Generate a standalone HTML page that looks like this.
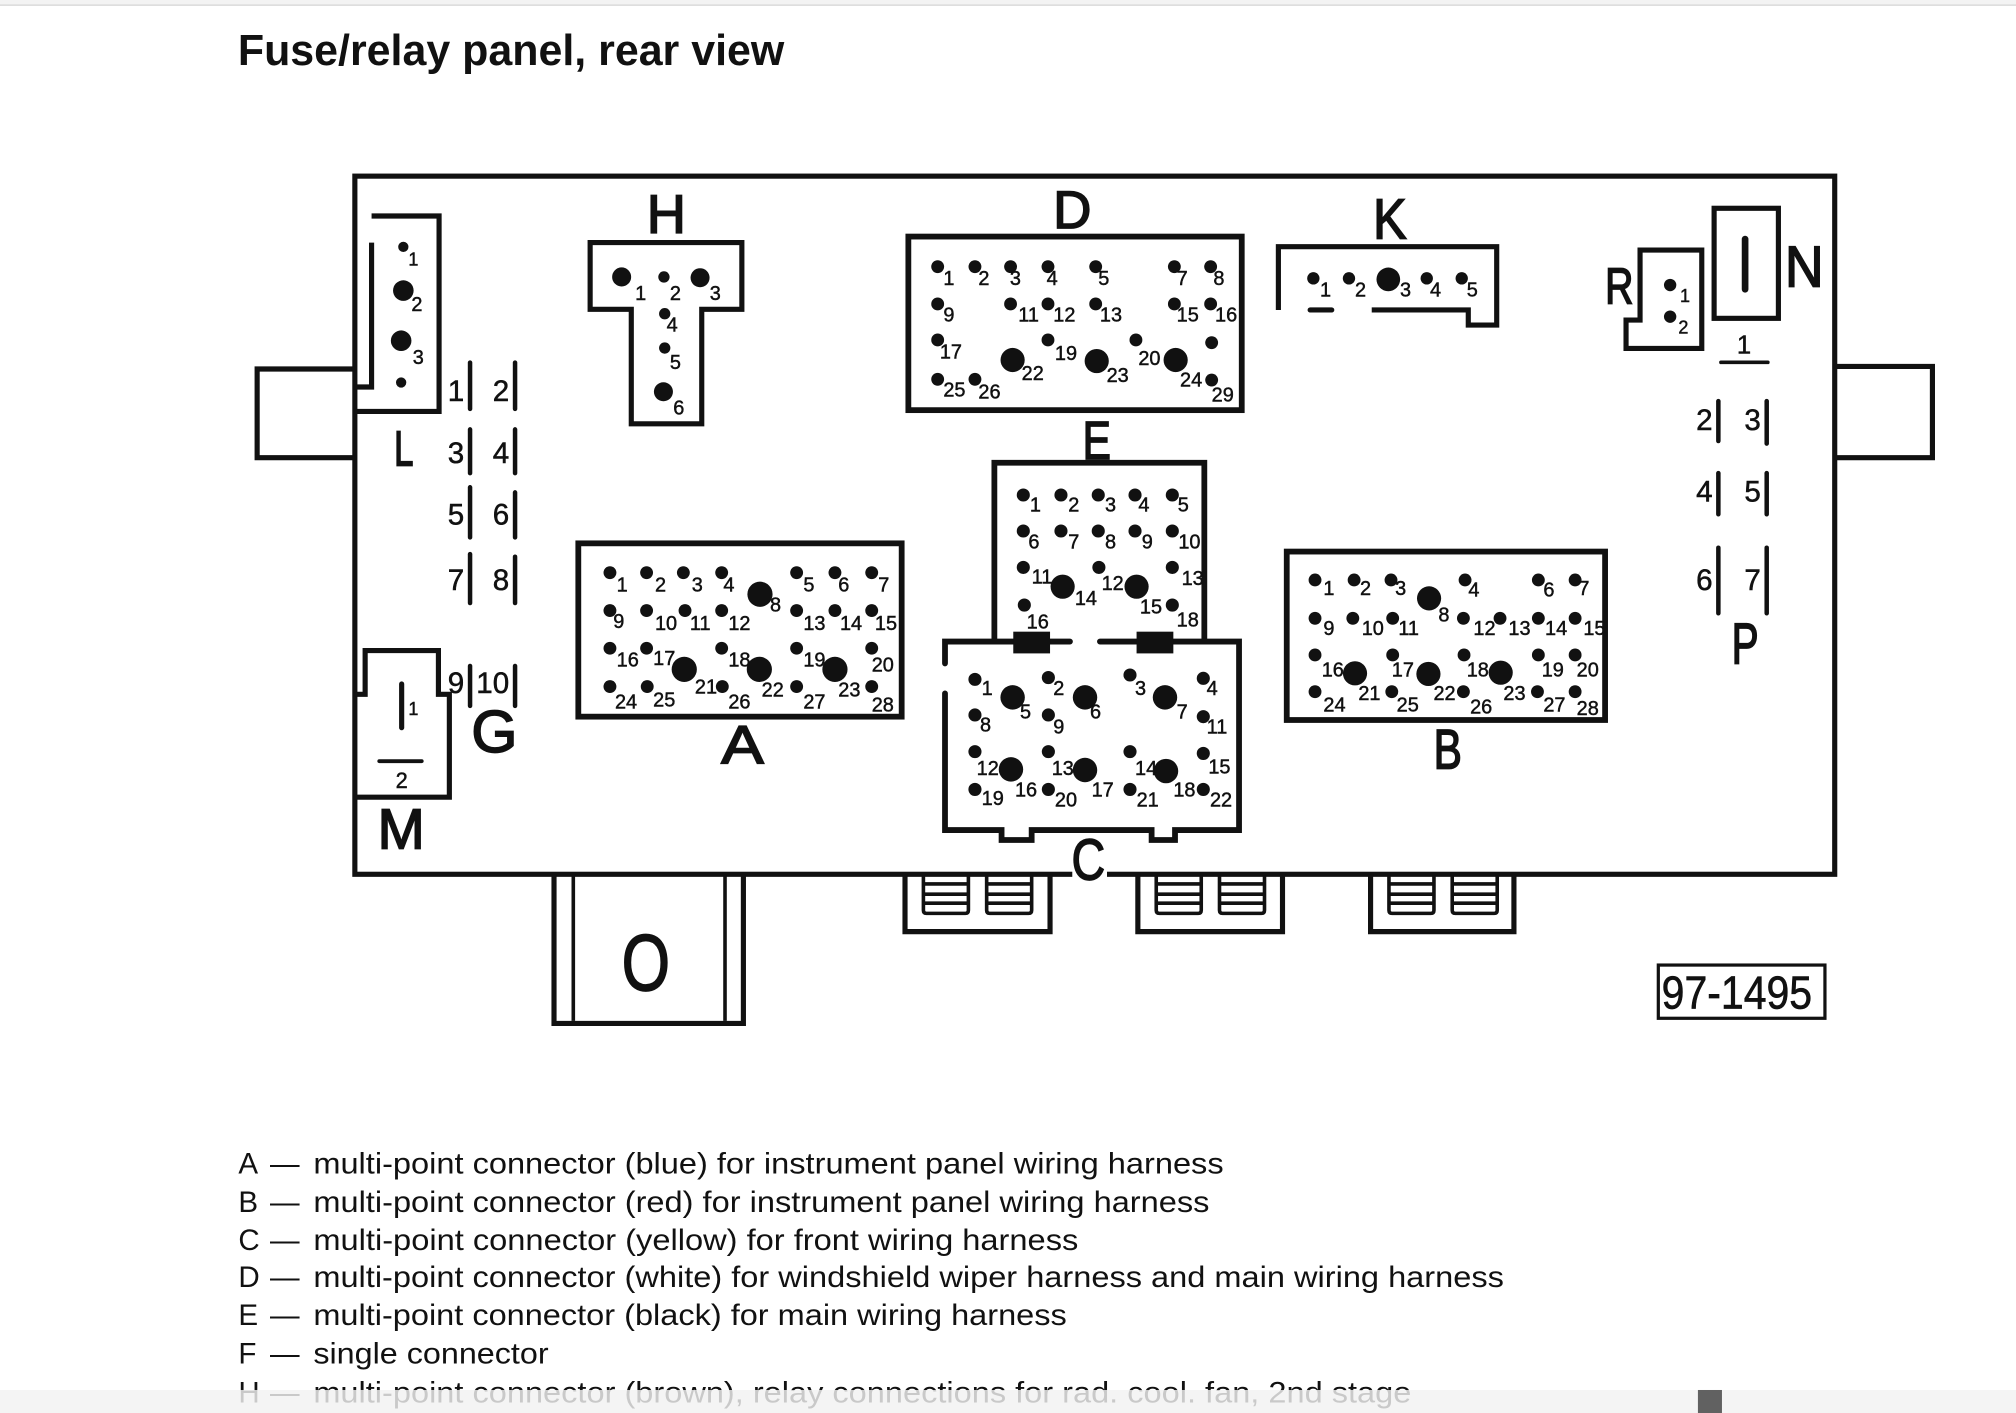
<!DOCTYPE html>
<html>
<head>
<meta charset="utf-8">
<style>
html,body{margin:0;padding:0;background:#fff;}
svg{display:block;}
text{font-family:"Liberation Sans",Arial,sans-serif;fill:#111;}
.n{font-size:15.5px;}
.n text{stroke:#111;stroke-width:0.35;}
.s{font-size:14px;}
.f{font-size:23px;}
.f text{stroke:#111;stroke-width:0.4;}
.big text{stroke:#111;stroke-width:1.3;}
.leg{font-size:23px;fill:#1a1a1a;}
</style>
</head>
<body>
<svg width="2016" height="1413" viewBox="0 0 1568 1099" xmlns="http://www.w3.org/2000/svg">
<rect x="0" y="0" width="1568" height="1099" fill="#fff"/>
<rect x="0" y="0" width="1568" height="3.9" fill="#f3f3f3"/>
<line x1="0" y1="4" x2="1568" y2="4" stroke="#cacaca" stroke-width="0.8"/>

<!-- Title -->
<text x="185" y="50.5" style="font-size:34px;font-weight:bold" textLength="425" lengthAdjust="spacingAndGlyphs">Fuse/relay panel, rear view</text>

<!-- Outline shapes -->
<g fill="none" stroke="#111" stroke-width="4" stroke-linejoin="miter">
  <rect x="276" y="137" width="1151" height="543"/>
  <path d="M276 287 H200 V356 H276"/>
  <path d="M1427 285 H1503 V356 H1427"/>
  <!-- L -->
  <path d="M289 168 H341.5 V320 H276"/>
  <path d="M289 188.7 V301 H276"/>
  <!-- M -->
  <path d="M276 540 H284 V506 H341 V540 H349.5 V620 H276"/>
  <!-- H -->
  <path d="M459 188.7 H577 V240.6 H545.8 V329.6 H491 V240.6 H459 Z"/>
  <!-- D -->
  <rect x="706.5" y="184" width="259.3" height="135" stroke-width="4.5"/>
  <!-- K -->
  <path d="M994.3 241.1 V191.9 H1164.1 V252.8 H1142 V241.1 H1066.9"/>
  <!-- R -->
  <path d="M1275.6 248.9 V194.5 H1323.6 V271 H1264.7 V248.9 Z"/>
  <!-- N -->
  <rect x="1333.2" y="162" width="50" height="85.6"/>
  <!-- A -->
  <rect x="449.8" y="422.6" width="251.5" height="134.8" stroke-width="4.5"/>
  <!-- B -->
  <rect x="1000.8" y="429" width="247.6" height="131" stroke-width="4.5"/>
  <!-- E -->
  <path d="M773.4 499 V359.9 H936.7 V499" stroke-width="4.5"/>
  <!-- C -->
  <path d="M735 516 V499 H832.2" stroke-width="4.5" stroke-linecap="round"/>
  <path d="M855.5 499 H963.7 V645.6 H913.9 V653.3 H895.7 V645.6 H802.4 V653.3 H779 V645.6 H735 V539.3" stroke-width="4.5" stroke-linecap="round"/>
  <!-- O -->
  <path d="M430.9 680 V796 H578.2 V680"/>
  <!-- relay tabs -->
  <path d="M703.9 680 V724.6 H816.7 V680"/>
  <path d="M885 680 V724.6 H997.5 V680"/>
  <path d="M1066 680 V724.6 H1177.5 V680"/>
</g>
<g fill="none" stroke="#111" stroke-width="2.8">
  <line x1="445.9" y1="680" x2="445.9" y2="794"/>
  <line x1="563.9" y1="680" x2="563.9" y2="794"/>
  <!-- tab1 slots -->
  <path d="M718.2 681 V708 Q718.2 710.4 720.6 710.4 H750.8 Q753.2 710.4 753.2 708 V681"/>
  <path d="M718.2 687.5 H753.2 M718.2 695.5 H753.2 M718.2 702.5 H753.2"/>
  <path d="M767.4 681 V708 Q767.4 710.4 769.8 710.4 H800 Q802.4 710.4 802.4 708 V681"/>
  <path d="M767.4 687.5 H802.4 M767.4 695.5 H802.4 M767.4 702.5 H802.4"/>
  <!-- tab2 slots -->
  <path d="M899.3 681 V708 Q899.3 710.4 901.7 710.4 H931.9 Q934.3 710.4 934.3 708 V681"/>
  <path d="M899.3 687.5 H934.3 M899.3 695.5 H934.3 M899.3 702.5 H934.3"/>
  <path d="M948.5 681 V708 Q948.5 710.4 950.9 710.4 H981.1 Q983.5 710.4 983.5 708 V681"/>
  <path d="M948.5 687.5 H983.5 M948.5 695.5 H983.5 M948.5 702.5 H983.5"/>
  <!-- tab3 slots -->
  <path d="M1080.3 681 V708 Q1080.3 710.4 1082.7 710.4 H1112.9 Q1115.3 710.4 1115.3 708 V681"/>
  <path d="M1080.3 687.5 H1115.3 M1080.3 695.5 H1115.3 M1080.3 702.5 H1115.3"/>
  <path d="M1129.5 681 V708 Q1129.5 710.4 1131.9 710.4 H1162.1 Q1164.5 710.4 1164.5 708 V681"/>
  <path d="M1129.5 687.5 H1164.5 M1129.5 695.5 H1164.5 M1129.5 702.5 H1164.5"/>
  <!-- 97-1495 box -->
  <rect x="1289.8" y="750.6" width="129.6" height="41.4" stroke-width="2.5"/>
</g>

<!-- E/C junction blocks -->
<rect x="788.1" y="491.3" width="28.6" height="16.9" fill="#111"/>
<rect x="884" y="491.3" width="28.6" height="16.9" fill="#111"/>

<!-- Bars (fuse slots, pins) -->
<g stroke="#111" stroke-width="3.5" stroke-linecap="round" fill="none">
  <line x1="365.6" y1="282" x2="365.6" y2="318"/>
  <line x1="400.6" y1="282" x2="400.6" y2="318"/>
  <line x1="365.6" y1="334" x2="365.6" y2="368"/>
  <line x1="400.6" y1="334" x2="400.6" y2="368"/>
  <line x1="365.6" y1="379" x2="365.6" y2="418"/>
  <line x1="400.6" y1="383" x2="400.6" y2="418"/>
  <line x1="365.6" y1="431" x2="365.6" y2="469"/>
  <line x1="400.6" y1="433" x2="400.6" y2="469"/>
  <line x1="365.6" y1="518" x2="365.6" y2="549"/>
  <line x1="400.6" y1="518" x2="400.6" y2="549"/>
  <line x1="1336.5" y1="312" x2="1336.5" y2="343"/>
  <line x1="1374.1" y1="312" x2="1374.1" y2="345"/>
  <line x1="1336.5" y1="368" x2="1336.5" y2="400"/>
  <line x1="1374.1" y1="368" x2="1374.1" y2="400"/>
  <line x1="1336.5" y1="426" x2="1336.5" y2="477"/>
  <line x1="1374.1" y1="426" x2="1374.1" y2="477"/>
  <line x1="312.4" y1="532" x2="312.4" y2="566" stroke-width="4"/>
  <line x1="295" y1="592" x2="328" y2="592" stroke-width="3"/>
  <line x1="1357.3" y1="186" x2="1357.3" y2="225" stroke-width="5.2"/>
  <line x1="1338.5" y1="281.8" x2="1375" y2="281.8" stroke-width="2.8"/>
  <line x1="1019" y1="241.1" x2="1035.8" y2="241.1" stroke-width="4"/>
</g>

<!-- Pins -->
<g fill="#111">
  <!-- L -->
  <circle cx="313.7" cy="192" r="4"/><circle cx="313.7" cy="226" r="8"/>
  <circle cx="312" cy="265" r="8"/><circle cx="312" cy="297.5" r="4"/>
  <!-- H -->
  <circle cx="483.5" cy="215.4" r="7.4"/><circle cx="516.4" cy="215.4" r="4.4"/>
  <circle cx="544.5" cy="216" r="7.4"/><circle cx="517" cy="244" r="4.4"/>
  <circle cx="517" cy="270.7" r="4.4"/><circle cx="516" cy="304.7" r="7.4"/>
  <!-- D -->
  <circle cx="729.3" cy="207.4" r="5"/><circle cx="758.3" cy="207.4" r="5"/>
  <circle cx="786" cy="207.4" r="5"/><circle cx="815.1" cy="207.4" r="5"/>
  <circle cx="852.2" cy="207.4" r="5"/><circle cx="913.4" cy="207.4" r="5"/>
  <circle cx="941.6" cy="207.4" r="5"/>
  <circle cx="729.3" cy="236.4" r="5"/><circle cx="786" cy="236.4" r="5"/>
  <circle cx="815.1" cy="236.4" r="5"/><circle cx="852.2" cy="236.4" r="5"/>
  <circle cx="913.4" cy="236.4" r="5"/><circle cx="941.6" cy="236.4" r="5"/>
  <circle cx="729.3" cy="264.4" r="5"/><circle cx="815.1" cy="264.4" r="5"/>
  <circle cx="883.5" cy="264.4" r="5"/><circle cx="942.4" cy="266.5" r="5"/>
  <circle cx="787.6" cy="280" r="9.4"/><circle cx="853" cy="280.8" r="9.4"/>
  <circle cx="914.4" cy="280" r="9.4"/>
  <circle cx="729.3" cy="295" r="5"/><circle cx="758.3" cy="295" r="5"/>
  <circle cx="942.4" cy="295.6" r="5"/>
  <!-- K -->
  <circle cx="1021.5" cy="216.5" r="4.8"/><circle cx="1049.2" cy="216.5" r="4.8"/>
  <circle cx="1079.8" cy="217.3" r="9.2"/><circle cx="1109.7" cy="216.5" r="4.8"/>
  <circle cx="1136.9" cy="216.5" r="4.8"/>
  <!-- R -->
  <circle cx="1299" cy="221.7" r="4.8"/><circle cx="1299" cy="246.3" r="4.8"/>
  <!-- A -->
  <circle cx="474.4" cy="445.4" r="5"/><circle cx="502.9" cy="445.4" r="5"/>
  <circle cx="531.5" cy="445.4" r="5"/><circle cx="561.3" cy="445.4" r="5"/>
  <circle cx="619.6" cy="445.4" r="5"/><circle cx="649.4" cy="445.4" r="5"/>
  <circle cx="678" cy="445.4" r="5"/>
  <circle cx="591.1" cy="462.2" r="9.8"/>
  <circle cx="474.4" cy="474.9" r="5"/><circle cx="502.9" cy="474.9" r="5"/>
  <circle cx="532.8" cy="474.9" r="5"/><circle cx="561.3" cy="474.9" r="5"/>
  <circle cx="619.6" cy="474.9" r="5"/><circle cx="649.4" cy="474.9" r="5"/>
  <circle cx="678" cy="474.9" r="5"/>
  <circle cx="474.4" cy="504.2" r="5"/><circle cx="502.9" cy="504.2" r="5"/>
  <circle cx="561.3" cy="504.2" r="5"/><circle cx="619.6" cy="504.2" r="5"/>
  <circle cx="678" cy="504.2" r="5"/>
  <circle cx="532.2" cy="520.6" r="9.8"/><circle cx="590.6" cy="520.6" r="9.8"/>
  <circle cx="649.4" cy="520.6" r="9.8"/>
  <circle cx="474.4" cy="534" r="5"/><circle cx="503.4" cy="534" r="5"/>
  <circle cx="561.8" cy="534" r="5"/><circle cx="619.6" cy="534" r="5"/>
  <circle cx="678" cy="534" r="5"/>
  <!-- E -->
  <circle cx="795.9" cy="385" r="5.1"/><circle cx="825.2" cy="385" r="5.1"/>
  <circle cx="854.2" cy="385" r="5.1"/><circle cx="882.8" cy="385" r="5.1"/>
  <circle cx="911.8" cy="385" r="5.1"/>
  <circle cx="795.9" cy="413" r="5.1"/><circle cx="825.2" cy="413" r="5.1"/>
  <circle cx="854.2" cy="413" r="5.1"/><circle cx="882.8" cy="413" r="5.1"/>
  <circle cx="911.8" cy="413" r="5.1"/>
  <circle cx="795.9" cy="441.3" r="5.1"/><circle cx="854.7" cy="441.3" r="5.1"/>
  <circle cx="911.8" cy="441.3" r="5.1"/>
  <circle cx="826.5" cy="456.3" r="9.4"/><circle cx="884" cy="456.3" r="9.4"/>
  <circle cx="796.7" cy="470.6" r="5.1"/><circle cx="911.8" cy="470.6" r="5.1"/>
  <!-- C -->
  <circle cx="758.3" cy="528.4" r="5.1"/><circle cx="815.4" cy="527" r="5.1"/>
  <circle cx="878.9" cy="525" r="5.1"/><circle cx="935.9" cy="527.6" r="5.1"/>
  <circle cx="787.6" cy="542.4" r="9.5"/><circle cx="843.9" cy="542.4" r="9.5"/>
  <circle cx="906.1" cy="542.4" r="9.5"/>
  <circle cx="758.3" cy="556.1" r="5.1"/><circle cx="815.4" cy="556.1" r="5.1"/>
  <circle cx="935.9" cy="557.4" r="5.1"/>
  <circle cx="758.3" cy="584.6" r="5.1"/><circle cx="815.4" cy="584.6" r="5.1"/>
  <circle cx="878.9" cy="584.6" r="5.1"/><circle cx="935.9" cy="586" r="5.1"/>
  <circle cx="786.3" cy="598.4" r="9.5"/><circle cx="843.9" cy="598.9" r="9.5"/>
  <circle cx="906.9" cy="599.7" r="9.5"/>
  <circle cx="758.3" cy="614" r="5.1"/><circle cx="815.4" cy="614" r="5.1"/>
  <circle cx="878.9" cy="614" r="5.1"/><circle cx="935.9" cy="614" r="5.1"/>
  <!-- B -->
  <circle cx="1022.8" cy="451.1" r="5"/><circle cx="1053.2" cy="451.1" r="5"/>
  <circle cx="1081.9" cy="451.1" r="5"/><circle cx="1139.5" cy="451.1" r="5"/>
  <circle cx="1196.5" cy="451.1" r="5"/><circle cx="1225.1" cy="451.1" r="5"/>
  <circle cx="1111.5" cy="465.4" r="9.4"/>
  <circle cx="1022.8" cy="480.9" r="5"/><circle cx="1052.2" cy="480.9" r="5"/>
  <circle cx="1083.2" cy="480.9" r="5"/><circle cx="1138.2" cy="480.9" r="5"/>
  <circle cx="1166.7" cy="480.9" r="5"/><circle cx="1196.5" cy="480.9" r="5"/>
  <circle cx="1225.1" cy="480.9" r="5"/>
  <circle cx="1022.8" cy="509.4" r="5"/><circle cx="1083.2" cy="509.4" r="5"/>
  <circle cx="1138.7" cy="509.4" r="5"/><circle cx="1196.5" cy="509.4" r="5"/>
  <circle cx="1225.1" cy="509.4" r="5"/>
  <circle cx="1053.9" cy="523.7" r="9.4"/><circle cx="1111" cy="524.2" r="9.4"/>
  <circle cx="1167.2" cy="523.2" r="9.4"/>
  <circle cx="1022.8" cy="538" r="5"/><circle cx="1082.5" cy="538" r="5"/>
  <circle cx="1138.2" cy="538" r="5"/><circle cx="1195.8" cy="538" r="5"/>
  <circle cx="1225.1" cy="538" r="5"/>
</g>

<!-- Pin labels -->
<g class="n">
  <!-- L -->
  <text x="317.6" y="206.5" class="s">1</text><text x="320" y="242">2</text><text x="321" y="283">3</text>
  <!-- H -->
  <text x="494" y="233.4">1</text><text x="521" y="233.4">2</text><text x="552" y="233.4">3</text>
  <text x="518.5" y="258">4</text><text x="521" y="287">5</text><text x="523.6" y="322.5">6</text>
  <!-- D -->
  <text x="733.7" y="221.7">1</text><text x="761" y="221.7">2</text><text x="785.5" y="221.7">3</text>
  <text x="814" y="221.7">4</text><text x="854.2" y="221.7">5</text><text x="915.2" y="221.7">7</text>
  <text x="943.7" y="221.7">8</text>
  <text x="733.7" y="250.2">9</text><text x="792" y="250.2">11</text><text x="819.2" y="250.2">12</text>
  <text x="855.5" y="250.2">13</text><text x="915.2" y="250.2">15</text><text x="945" y="250.2">16</text>
  <text x="731" y="278.7">17</text><text x="820.5" y="280">19</text><text x="885.4" y="284">20</text>
  <text x="794.6" y="295.6">22</text><text x="860.7" y="297">23</text><text x="917.8" y="300.7">24</text>
  <text x="733.7" y="308.5">25</text><text x="761" y="309.8">26</text><text x="942.4" y="312.4">29</text>
  <!-- K -->
  <text x="1026.7" y="230.8">1</text><text x="1053.9" y="230.8">2</text><text x="1088.9" y="230.8">3</text>
  <text x="1112.2" y="230.8">4</text><text x="1140.8" y="230.8">5</text>
  <!-- R -->
  <text x="1306.7" y="234.7" class="s">1</text><text x="1305.4" y="259.3" class="s">2</text>
  <!-- A -->
  <text x="479.6" y="460.2">1</text><text x="509.4" y="460.2">2</text><text x="538" y="460.2">3</text>
  <text x="562.6" y="460.2">4</text><text x="624.8" y="460.2">5</text><text x="652" y="460.2">6</text>
  <text x="683.1" y="460.2">7</text><text x="598.9" y="475.7">8</text>
  <text x="477" y="488.5">9</text><text x="509.4" y="490">10</text><text x="536.6" y="490">11</text>
  <text x="566.5" y="490">12</text><text x="624.8" y="490">13</text><text x="653.3" y="490">14</text>
  <text x="680.5" y="490">15</text>
  <text x="479.6" y="518.5">16</text><text x="508" y="517.2">17</text><text x="566.5" y="518.5">18</text>
  <text x="624.8" y="518.5">19</text><text x="678" y="522.4">20</text>
  <text x="540.5" y="539.2">21</text><text x="592.4" y="541.8">22</text><text x="652" y="541.8">23</text>
  <text x="478.3" y="550.9">24</text><text x="508" y="549.6">25</text><text x="566.5" y="550.9">26</text>
  <text x="624.8" y="550.9">27</text><text x="678" y="553.5">28</text>
  <!-- E -->
  <text x="801" y="398">1</text><text x="830.9" y="398">2</text><text x="859.4" y="398">3</text>
  <text x="885.4" y="398">4</text><text x="916" y="398">5</text>
  <text x="799.8" y="426.5">6</text><text x="830.9" y="426.5">7</text><text x="859.4" y="426.5">8</text>
  <text x="888" y="426.5">9</text><text x="916.5" y="426.5">10</text>
  <text x="802.4" y="453.7">11</text><text x="856.8" y="459">12</text><text x="919" y="455">13</text>
  <text x="836" y="470.6">14</text><text x="886.6" y="477">15</text>
  <text x="798.5" y="488.7">16</text><text x="915.2" y="487.4">18</text>
  <!-- C -->
  <text x="763.5" y="540.6">1</text><text x="819.2" y="540.6">2</text><text x="882.8" y="540.6">3</text>
  <text x="938.5" y="540.6">4</text>
  <text x="793.3" y="558.7">5</text><text x="847.8" y="558.7">6</text><text x="915.2" y="558.7">7</text>
  <text x="762.2" y="569">8</text><text x="819.2" y="570.4">9</text><text x="938.5" y="570.4">11</text>
  <text x="759.6" y="602.8">12</text><text x="818" y="602.8">13</text><text x="882.8" y="602.8">14</text>
  <text x="939.8" y="601.5">15</text>
  <text x="789.4" y="619.6">16</text><text x="849" y="619.6">17</text><text x="912.6" y="619.6">18</text>
  <text x="763.5" y="626">19</text><text x="820.5" y="627.4">20</text><text x="884" y="627.4">21</text>
  <text x="941.1" y="627.4">22</text>
  <!-- B -->
  <text x="1029.3" y="462.8">1</text><text x="1057.8" y="462.8">2</text><text x="1085.1" y="462.8">3</text>
  <text x="1142.1" y="464">4</text><text x="1200.4" y="464">6</text><text x="1227.6" y="462.8">7</text>
  <text x="1118.7" y="483.5">8</text>
  <text x="1029.3" y="493.9">9</text><text x="1059.1" y="493.9">10</text><text x="1087.6" y="493.9">11</text>
  <text x="1146" y="493.9">12</text><text x="1173.2" y="493.9">13</text><text x="1201.7" y="493.9">14</text>
  <text x="1231.5" y="493.9">15</text>
  <text x="1028" y="526.3">16</text><text x="1082.5" y="526.3">17</text><text x="1140.8" y="526.3">18</text>
  <text x="1199.1" y="526.3">19</text><text x="1226.3" y="526.3">20</text>
  <text x="1056.5" y="544.5">21</text><text x="1114.9" y="544.5">22</text><text x="1169.3" y="544.5">23</text>
  <text x="1029.3" y="553.5">24</text><text x="1086.3" y="553.5">25</text><text x="1143.4" y="554.8">26</text>
  <text x="1200.4" y="553.5">27</text><text x="1226.3" y="556.1">28</text>
  <!-- M -->
  <text x="317.6" y="556" class="s">1</text>
  <text x="312.4" y="613" text-anchor="middle" style="font-size:17px">2</text>
  <!-- N -->
  <text x="1356.5" y="275" text-anchor="middle" style="font-size:20px">1</text>
</g>

<!-- Fuse slot labels G -->
<g class="f" text-anchor="end">
  <text x="361" y="312">1</text><text x="396" y="312">2</text>
  <text x="361" y="360">3</text><text x="396" y="360">4</text>
  <text x="361" y="408">5</text><text x="396" y="408">6</text>
  <text x="361" y="459">7</text><text x="396" y="459">8</text>
  <text x="361" y="539">9</text><text x="396" y="539">10</text>
  <!-- P -->
  <text x="1332" y="334.5">2</text><text x="1369.5" y="334.5">3</text>
  <text x="1332" y="390">4</text><text x="1369.5" y="390">5</text>
  <text x="1332" y="459">6</text><text x="1369.5" y="459">7</text>
</g>

<!-- Knockout behind C letter -->
<rect x="834" y="676" width="27" height="8" fill="#fff"/>

<!-- Big letter labels -->
<g class="big" text-anchor="middle">
  <text x="518.3" y="181" style="font-size:42px">H</text>
  <text x="834" y="177.4" style="font-size:41px">D</text>
  <text x="1081" y="185.4" style="font-size:44px" textLength="26" lengthAdjust="spacingAndGlyphs">K</text>
  <text x="1259.4" y="236" style="font-size:40px" textLength="22" lengthAdjust="spacingAndGlyphs">R</text>
  <text x="1403.3" y="223" style="font-size:45px" textLength="30" lengthAdjust="spacingAndGlyphs">N</text>
  <text x="314" y="362" style="font-size:38px" textLength="15" lengthAdjust="spacingAndGlyphs">L</text>
  <text x="384.5" y="585" style="font-size:46px">G</text>
  <text x="312" y="660" style="font-size:44px">M</text>
  <text x="577.5" y="594" style="font-size:42px" textLength="33" lengthAdjust="spacingAndGlyphs">A</text>
  <text x="853" y="357" style="font-size:42px" textLength="22" lengthAdjust="spacingAndGlyphs">E</text>
  <text x="846.5" y="684" style="font-size:45px" textLength="26" lengthAdjust="spacingAndGlyphs">C</text>
  <text x="1126" y="597.6" style="font-size:43px" textLength="22" lengthAdjust="spacingAndGlyphs">B</text>
  <text x="1357.3" y="516" style="font-size:45px" textLength="21" lengthAdjust="spacingAndGlyphs">P</text>
  <text x="502.3" y="770" style="font-size:62px" textLength="37.5" lengthAdjust="spacingAndGlyphs">O</text>
</g>

<!-- Figure number -->
<text x="1292.4" y="784.3" style="font-size:36px;stroke:#111;stroke-width:0.5" textLength="117" lengthAdjust="spacingAndGlyphs">97-1495</text>

<!-- Legend -->
<g class="leg">
  <text x="185.4" y="912.6">A</text><text x="210" y="912.6">—</text>
  <text x="243.7" y="912.6" textLength="708" lengthAdjust="spacingAndGlyphs">multi-point connector (blue) for instrument panel wiring harness</text>
  <text x="185.4" y="942.5">B</text><text x="210" y="942.5">—</text>
  <text x="243.7" y="942.5" textLength="697" lengthAdjust="spacingAndGlyphs">multi-point connector (red) for instrument panel wiring harness</text>
  <text x="185.4" y="972.3">C</text><text x="210" y="972.3">—</text>
  <text x="243.7" y="972.3" textLength="595" lengthAdjust="spacingAndGlyphs">multi-point connector (yellow) for front wiring harness</text>
  <text x="185.4" y="1001">D</text><text x="210" y="1001">—</text>
  <text x="243.7" y="1001" textLength="926" lengthAdjust="spacingAndGlyphs">multi-point connector (white) for windshield wiper harness and main wiring harness</text>
  <text x="185.4" y="1030.6">E</text><text x="210" y="1030.6">—</text>
  <text x="243.7" y="1030.6" textLength="586" lengthAdjust="spacingAndGlyphs">multi-point connector (black) for main wiring harness</text>
  <text x="185.4" y="1060.4">F</text><text x="210" y="1060.4">—</text>
  <text x="243.7" y="1060.4" textLength="183" lengthAdjust="spacingAndGlyphs">single connector</text>
  <text x="185.4" y="1091">H</text><text x="210" y="1091">—</text>
  <text x="243.7" y="1091" textLength="854" lengthAdjust="spacingAndGlyphs">multi-point connector (brown), relay connections for rad. cool. fan, 2nd stage</text>
</g>

<!-- Bottom overlay band -->
<rect x="0" y="1081.1" width="1568" height="18" fill="#f2f2f2" fill-opacity="0.82"/>
<rect x="1320.6" y="1081.1" width="18.7" height="18" fill="#616161"/>
</svg>
</body>
</html>
